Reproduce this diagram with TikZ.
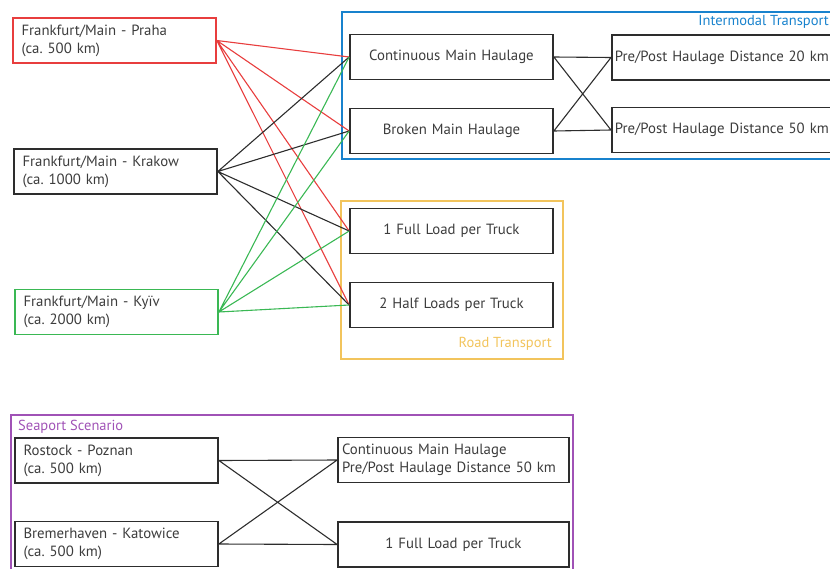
\documentclass[tikz,border=0pt]{standalone}
\usepackage{fontspec}
\setmainfont{PT Sans}
\usepackage{tikz}
\usetikzlibrary{positioning}
\frenchspacing

\definecolor{boxgray}{RGB}{45,45,45}
\definecolor{textgray}{RGB}{60,60,60}
\definecolor{pragred}{RGB}{232,62,62}
\definecolor{kyivgreen}{RGB}{58,184,84}
\definecolor{imblue}{RGB}{24,130,205}
\definecolor{roadorange}{RGB}{242,196,92}
\definecolor{seapurple}{RGB}{160,82,182}

\begin{document}
\begin{tikzpicture}[x=1pt,y=-1pt]

	\tikzset{routebox/.style={
			draw=#1, line width=1.7pt, text=textgray,
			minimum height=45pt, text width=186pt,
			inner xsep=8.5pt, inner ysep=0pt, align=left,
			font=\fontsize{14.8}{18}\selectfont
		},
		routebox/.default=boxgray,
		optionbox/.style={
			draw=boxgray, line width=1.7pt, text=textgray,
			minimum height=45pt, text width=#1,
			inner xsep=0pt, inner ysep=0pt, align=center,
			font=\fontsize{14.8}{18}\selectfont
		},
		optionbox/.default=203pt,
		framebox/.style={draw=#1, line width=1.4pt},
		framelabel/.style={text=#1, inner sep=0pt, font=\fontsize{14.5}{16}\selectfont},
		link/.style={line width=1.1pt}
	}

	\clip (0,0) rectangle (830,568);

	% frames
	\draw[framebox=imblue] (342,12) rectangle (850,159);
	\draw[framebox=roadorange] (341,201) rectangle (563,359);
	\draw[framebox=seapurple] (11,415) rectangle (573,590);
	\node[framelabel=imblue, anchor=east] (imlabel) at (829,22) {Intermodal Transport};
	\node[framelabel=roadorange, anchor=east] (roadlabel) at (552,344) {Road Transport};
	\node[framelabel=seapurple, anchor=west] (sealabel) at (18,427) {Seaport Scenario};

	% routes
	\node[routebox=pragred] (praha) at (114.5,40.5) {Frankfurt/Main - Praha\\(ca. 500 km)};
	\node[routebox] (krakow) at (115.5,171.5) {Frankfurt/Main - Krakow\\(ca. 1000 km)};
	\node[routebox=kyivgreen] (kyiv) at (116.5,312) {Frankfurt/Main - Kyïv\\(ca. 2000 km)};

	% transport options
	\node[optionbox] (cmh) at (451.5,57) {Continuous Main Haulage};
	\node[optionbox] (bmh) at (451.5,131) {Broken Main Haulage};
	\node[optionbox] (full) at (451.5,231) {1 Full Load per Truck};
	\node[optionbox] (half) at (451.5,305) {2 Half Loads per Truck};
	\node[optionbox=260pt, align=left, inner xsep=3pt, anchor=west] (pp20) at (611,57.5) {Pre/Post Haulage Distance 20 km};
	\node[optionbox=260pt, align=left, inner xsep=3pt, anchor=west] (pp50) at (611,130) {Pre/Post Haulage Distance 50 km};

	% seaport
	\node[routebox] (rostock) at (116.5,460.5) {Rostock - Poznan\\(ca. 500 km)};
	\node[routebox] (bremer) at (116.5,544) {Bremerhaven - Katowice\\(ca. 500 km)};
	\node[routebox, text width=223pt, inner xsep=4pt] (seacmh) at (453.5,460) {Continuous Main Haulage\\Pre/Post Haulage Distance 50 km};
	\node[optionbox=231pt] (seafull) at (453.5,544.5) {1 Full Load per Truck};

	% connectors
	\draw[link, pragred] (praha.east) -- (cmh.west) (praha.east) -- (bmh.west)
		(praha.east) -- (full.west) (praha.east) -- (half.west);
	\draw[link, boxgray] (krakow.east) -- (cmh.west) (krakow.east) -- (bmh.west)
		(krakow.east) -- (full.west) (krakow.east) -- (half.west);
	\draw[link, kyivgreen] (kyiv.east) -- (cmh.west) (kyiv.east) -- (bmh.west)
		(kyiv.east) -- (full.west) (kyiv.east) -- (half.west);
	\draw[link, boxgray] (cmh.east) -- (pp20.west) (cmh.east) -- (pp50.west)
		(bmh.east) -- (pp20.west) (bmh.east) -- (pp50.west);
	\draw[link, boxgray] (rostock.east) -- (seacmh.west) (rostock.east) -- (seafull.west)
		(bremer.east) -- (seacmh.west) (bremer.east) -- (seafull.west);

\end{tikzpicture}
\end{document}
